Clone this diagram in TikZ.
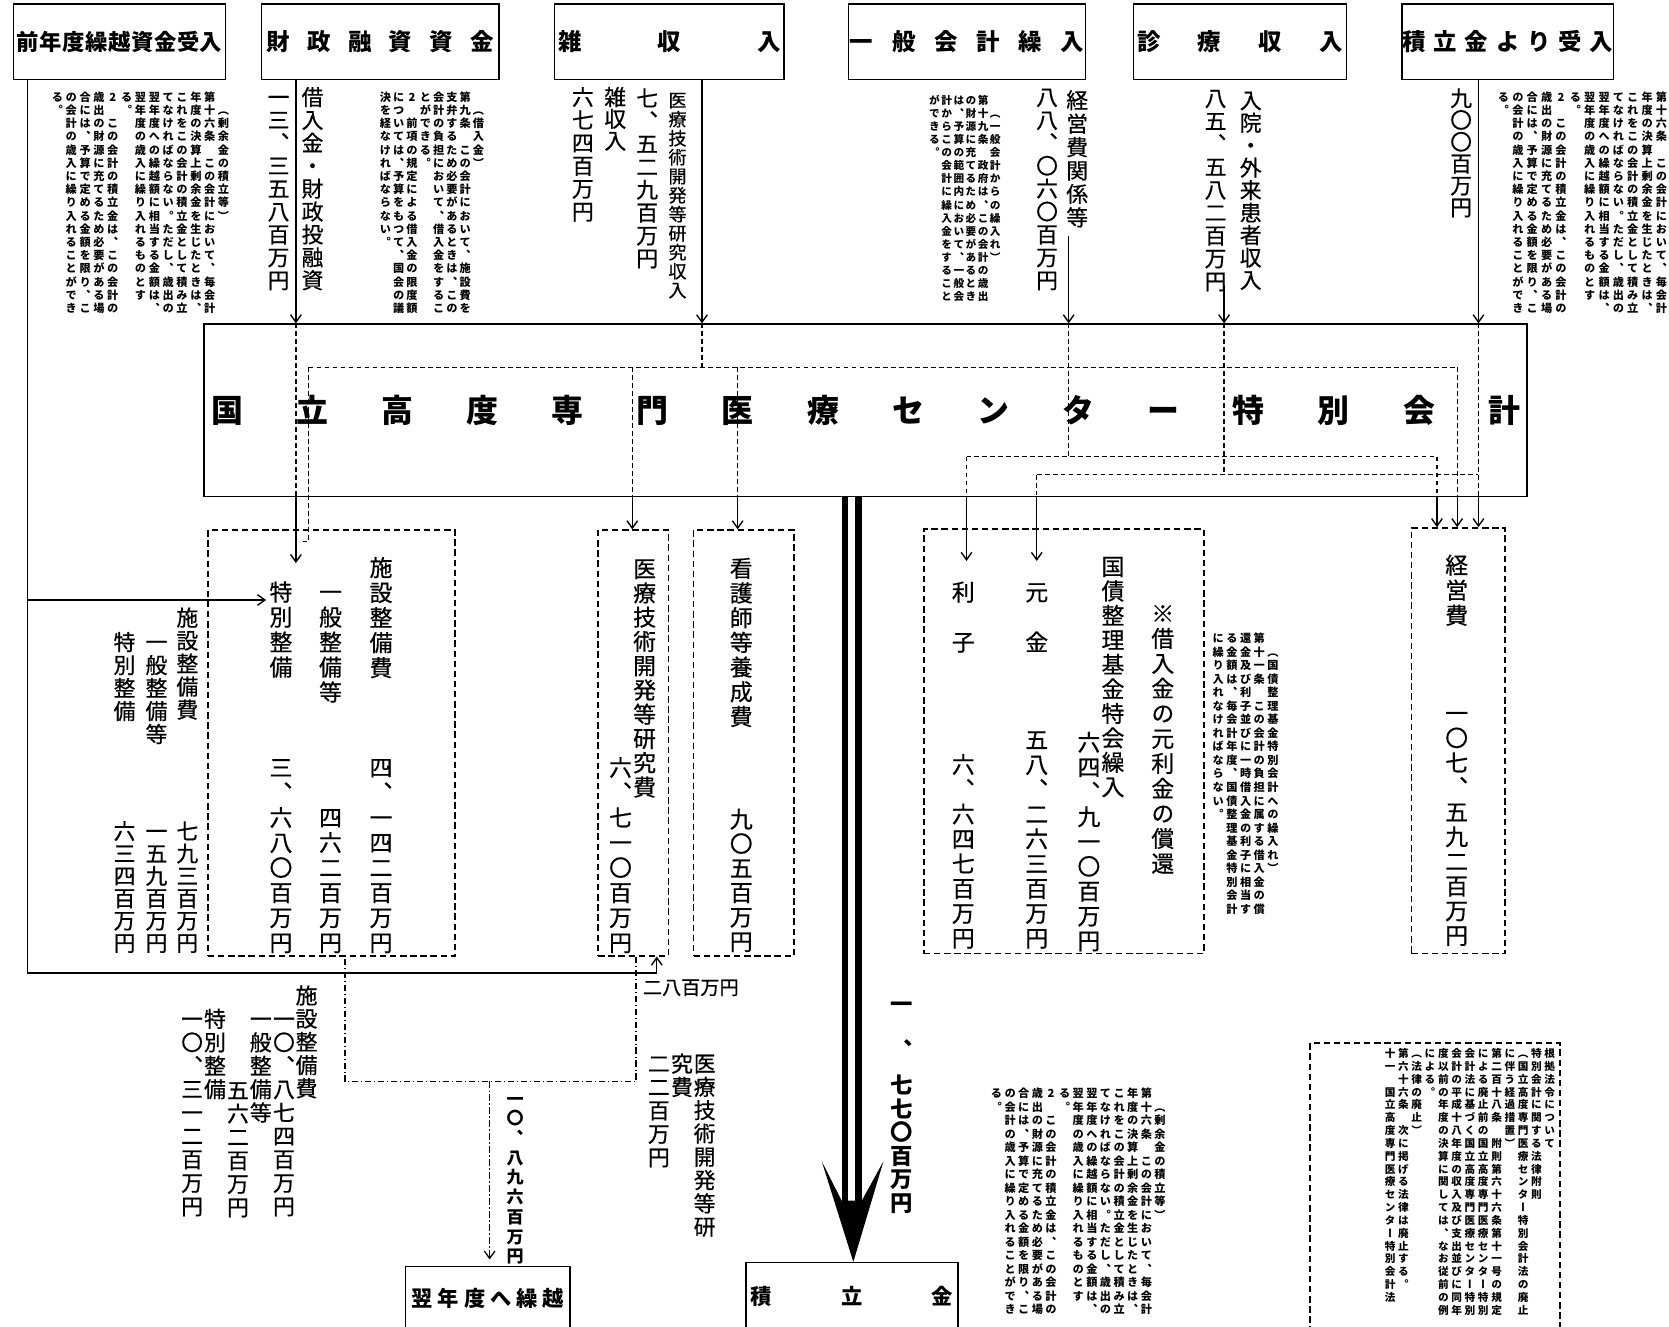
\documentclass[tikz,border=0pt]{standalone}
\usepackage{fontspec}
\usetikzlibrary{arrows.meta}
\newfontfamily\jp{Noto Sans CJK JP}
\newfontfamily\jpm[FakeBold=0.6]{Noto Sans CJK JP}
\newfontfamily\vjp[RawFeature=+vert]{Noto Sans CJK JP}
\newfontfamily\vjpm[RawFeature=+vert,FakeBold=0.6]{Noto Sans CJK JP}
\newlength\vstep
\def\vtloop#1{\ifx#1\relax\else\vtcell{#1}\expandafter\vtloop\fi}
\def\vtcell#1{\ifx#1|\vskip0.5\vstep\else\hbox to\vstep{\hss\vbox to\vstep{\vss\hbox{\smash{#1}}\kern\dimexpr0.5\vstep-0.38em\relax}\hss}\fi}
\newcommand\vt[2]{\setlength\vstep{#1}\vbox{\offinterlineskip\expandafter\vtloop#2\relax}}
\def\sploop#1{\ifx#1\relax\else#1\hfill\expandafter\sploop\fi}
\newcommand\spread[2]{\hbox to #1{\sploop#2\relax\unskip}}
\def\Lsixbody{第十六条　この会計において、毎会計,年度の決算上剰余金を生じたときは、,これをこの会計の積立金として積み立,てなければならない。ただし、歳出の,翌年度への繰越額に相当する金額は、,翌年度の歳入に繰り入れるものとす,る。,2　この会計の積立金は、この会計の,歳出の財源に充てるため必要がある場,合には、予算で定める金額を限り、こ,の会計の歳入に繰り入れることができ,る。}
\edef\Lsixteen{　（剰余金の積立等）,\Lsixbody}
\def\Lnine{　（借入金）,第九条　この会計において、施設費を,支弁するため必要があるときは、この,会計の負担において、借入金をするこ,とができる。,2　前項の規定による借入金の限度額,については、予算をもつて、国会の議,決を経なければならない。}
\def\Lnineteen{　（一般会計からの繰入れ）,第十九条　政府は、この会計の歳出,の財源に充てるため必要があるとき,は、予算の範囲内において、一般会,計からこの会計に繰入金をすること,ができる。}
\def\Leleven{　（国債整理基金特別会計への繰入れ）,第十一条　この会計の負担に属する借入金の償,還金及び利子並びに一時借入金の利子に相当す,る金額は、毎会計年度、国債整理基金特別会計,に繰り入れなければならない。}
\def\Lbasis{根拠法令について,特別会計に関する法律附則,（国立高度専門医療センター特別会計法の廃止,に伴う経過措置）,第二百十八条　附則第六十六条第十一号の規定,による廃止前の国立高度専門医療センター特別,会計法に基づく国立高度専門医療センター特別,会計の平成十八年度の収入及び支出並びに同年,度以前の年度の決算に関しては、なお従前の例,による。,（法律の廃止）,第六十六条　次に掲げる法律は廃止する。,十一　国立高度専門医療センター特別会計法}
\tikzset{
  topbox/.style={draw, line width=1.4pt, inner sep=0pt, minimum height=71pt, font=\jp\bfseries\fontsize{22}{22}\selectfont},
  dbox/.style={draw, line width=1.4pt, dash pattern=on 6pt off 3.5pt, inner sep=0pt},
  sbox/.style={draw, line width=1.4pt, inner sep=0pt, font=\jp\bfseries\fontsize{20}{20}\selectfont},
  vA/.style={inner sep=0pt, font=\vjpm\fontsize{20.5}{20.5}\selectfont},
  vB/.style={inner sep=0pt, font=\vjpm\fontsize{21.5}{21.5}\selectfont},
  vC/.style={inner sep=0pt, font=\vjpm\fontsize{17}{17}\selectfont},
  vlegal/.style={inner sep=0pt, anchor=north, font=\vjp\bfseries\fontsize{10.5}{10.5}\selectfont},
  arr/.style={line width=1.3pt, -{Straight Barb[length=7pt,width=10pt,line width=1.3pt]}},
  dln/.style={line width=1.25pt, dash pattern=on 4.5pt off 3pt},
  ddln/.style={line width=1.2pt, dash pattern=on 6pt off 2.5pt on 1.2pt off 2.5pt},
}
\begin{document}
\begin{tikzpicture}[x=1pt,y=-1pt]
\useasboundingbox (0,0) rectangle (1568,1246);
\fill[white] (0,0) rectangle (1568,1246);

% ---------- top boxes
\node[topbox, minimum width=199pt, font=\jp\bfseries\fontsize{21}{21}\selectfont] (B1) at (112.4,39.4) {\spread{193pt}{前年度繰越資金受入}};
\node[topbox, minimum width=223.4pt] (B2) at (357.3,39.4) {\spread{213pt}{財政融資資金}};
\node[topbox, minimum width=215.6pt] (B3) at (628.8,39.4) {\spread{209pt}{雑収入}};
\node[topbox, minimum width=223pt] (B4) at (908.5,39.4) {\spread{220pt}{一般会計繰入}};
\node[topbox, minimum width=200pt] (B5) at (1165,39.4) {\spread{193pt}{診療収入}};
\node[topbox, minimum width=199pt] (B6) at (1416.5,39.4) {\spread{197pt}{積立金より受入}};

% ---------- main box
\node[draw, line width=1.4pt, inner sep=0pt, minimum width=1243pt, minimum height=162pt, font=\jp\bfseries\fontsize{30}{30}\selectfont] (M) at (813.25,385.5) {\spread{1230pt}{国立高度専門医療センター特別会計}};

% ---------- lower dashed boxes
\node[dbox, minimum width=232.2pt, minimum height=400pt] (LB1) at (311.5,698) {};
\node[dbox, minimum width=66pt, minimum height=400pt] (LB2) at (595,698) {};
\node[dbox, minimum width=94.4pt, minimum height=400pt] (LB3) at (698.8,698) {};
\node[dbox, minimum width=263pt, minimum height=399pt] (LB4) at (999.5,696.5) {};
\node[dbox, minimum width=88pt, minimum height=400pt] (LB5) at (1370,696) {};
\node[dbox, minimum width=234.9pt, minimum height=290pt] (LB7) at (1348.15,1125) {};

% ---------- bottom boxes
\node[sbox, minimum width=154.5pt, minimum height=62pt] (Y) at (458.25,1221) {\raisebox{4pt}{\spread{143pt}{翌年度へ繰越}}};
\node[sbox, minimum width=199pt, minimum height=64pt] (S) at (800.5,1218) {\raisebox{3pt}{\spread{190pt}{積立金}}};

% ---------- legal texts
\foreach \legtext [count=\i] in \Lsixteen
  \node[vlegal] (La-\i) at ({210-(\i-1)*13},84.8) {\vt{12.4pt}{\legtext}};
\foreach \legtext [count=\i] in \Lnine
  \node[vlegal] (Lb-\i) at ({449.6-(\i-1)*12.5},84.8) {\vt{12.4pt}{\legtext}};
\foreach \legtext [count=\i] in \Lnineteen
  \node[vlegal, font=\vjp\bfseries\fontsize{10}{10}\selectfont] (Lc-\i) at ({935-(\i-1)*11.4},87.85) {\vt{12.3pt}{\legtext}};
\foreach \legtext [count=\i] in \Lsixbody
  \node[vlegal] (Ld-\i) at ({1561-(\i-1)*13.5},84.8) {\vt{12.4pt}{\legtext}};
\foreach \legtext [count=\i] in \Leleven
  \node[vlegal] (Le-\i) at ({1196-(\i-1)*12.9},593.35) {\vt{12.7pt}{\legtext}};
\foreach \legtext [count=\i] in \Lsixteen
  \node[vlegal] (Lf-\i) at ({1089.8-(\i-1)*12.8},1020.65) {\vt{12.7pt}{\legtext}};
\foreach \legtext [count=\i] in \Lbasis
  \node[vlegal, font=\vjp\bfseries\fontsize{10}{10}\selectfont] (Lg-\i) at ({1456-(\i-1)*12.5},983.6) {\vt{12.05pt}{\legtext}};

% ---------- vertical texts, upper
\node[vA, anchor=north] (t1) at (261.7,80.25) {\vt{21.5pt}{一三、三五八百万円}};
\node[vA, anchor=north] (t2) at (293.6,80.25) {\vt{21.5pt}{借入金・財政投融資}};
\node[vA, anchor=north] (t3) at (547.6,80.25) {\vt{21.5pt}{六七四百万円}};
\node[vA, anchor=north] (t4) at (578,80.75) {\vt{20.5pt}{雑収入}};
\node[vA, anchor=north] (t5) at (608,81.25) {\vt{21.5pt}{七、五二九百万円}};
\node[vC, anchor=north] (t6) at (636.5,85) {\vt{17.85pt}{医療技術開発等研究収入}};
\node[vA, anchor=north] (t7) at (983.7,80.25) {\vt{21.5pt}{八八、〇六〇百万円}};
\node[vA, anchor=north] (t8) at (1012,83) {\vt{22pt}{経営費関係等}};
\node[vA, anchor=north] (t9) at (1142,81.25) {\vt{21.5pt}{八五、五八二百万円}};
\node[vA, anchor=north] (t10) at (1175,83.5) {\vt{21.1pt}{入院・外来患者収入}};
\node[vA, anchor=north] (t11) at (1372.7,81.75) {\vt{20.5pt}{九〇〇百万円}};

% ---------- inside LB1 and beside it
\node[vB, anchor=north] (t12) at (358,521.25) {\vt{23.5pt}{施設整備費}};
\node[vB, anchor=south] (t13) at (358,897.5) {\vt{23.5pt}{四、一四二百万円}};
\node[vB, anchor=north] (t14) at (310.5,544.25) {\vt{23.5pt}{一般整備等}};
\node[vB, anchor=south] (t15) at (310.5,897.5) {\vt{23.5pt}{四六二百万円}};
\node[vB, anchor=north] (t16) at (264,544.25) {\vt{23.5pt}{特別整備}};
\node[vB, anchor=south] (t17) at (264,897.5) {\vt{23.5pt}{三、六八〇百万円}};
\node[vA, anchor=north] (t18) at (176,569.2) {\vt{21.6pt}{施設整備費}};
\node[vA, anchor=south] (t19) at (176,896.5) {\vt{21pt}{七九三百万円}};
\node[vA, anchor=north] (t20) at (147,592.2) {\vt{21.6pt}{一般整備等}};
\node[vA, anchor=south] (t21) at (147,896.5) {\vt{21pt}{一五九百万円}};
\node[vA, anchor=north] (t22) at (117,592.2) {\vt{21.6pt}{特別整備}};
\node[vA, anchor=south] (t23) at (117,896.5) {\vt{21pt}{六三四百万円}};

% ---------- LB2, LB3
\node[vB, anchor=north] (t24) at (605.6,522.6) {\vt{22.8pt}{医療技術開発等研究費}};
\node[vB, anchor=south] (t25) at (583,897.5) {\vt{23.5pt}{六、七一〇百万円}};
\node[vB, anchor=north] (t26) at (696.4,522.1) {\vt{23.2pt}{看護師等養成費}};
\node[vB, anchor=south] (t27) at (696.4,896.2) {\vt{23pt}{九〇五百万円}};

% ---------- LB4
\node[vB, anchor=north] (t28) at (1092.4,564.25) {\vt{23.5pt}{※借入金の元利金の償還}};
\node[vB, anchor=north] (t29) at (1045.6,520.5) {\vt{23pt}{国債整理基金特会繰入}};
\node[vB, anchor=south] (t30) at (1023,895.65) {\vt{23.3pt}{六四、九一〇百万円}};
\node[vB, anchor=north] (t31) at (974,544.25) {\vt{23.5pt}{元　金}};
\node[vB, anchor=south] (t32) at (974,893.15) {\vt{23.3pt}{五八、二六三百万円}};
\node[vB, anchor=north] (t33) at (905,544.25) {\vt{23.5pt}{利　子}};
\node[vB, anchor=south] (t34) at (905,893.15) {\vt{23.3pt}{六、六四七百万円}};

% ---------- LB5
\node[vB, anchor=north] (t35) at (1368.5,519) {\vt{23.5pt}{経営費}};
\node[vB, anchor=south] (t36) at (1368.5,890.6) {\vt{23.2pt}{一〇七、五九二百万円}};

% ---------- lower area
\node[vA, anchor=north] (t37) at (288,924.1) {\vt{21.8pt}{施設整備費}};
\node[vA, anchor=north] (t38) at (266.8,946) {\vt{22pt}{一〇、八七四百万円}};
\node[vA, anchor=north] (t39) at (245,946) {\vt{22pt}{一般整備等}};
\node[vA, anchor=north] (t40) at (223.6,1013) {\vt{22pt}{五六二百万円}};
\node[vA, anchor=north] (t41) at (202,946) {\vt{22pt}{特別整備}};
\node[vA, anchor=north] (t42) at (180.5,946) {\vt{22pt}{一〇、三一二百万円}};
\node[inner sep=0pt, anchor=north, font=\vjp\bfseries\fontsize{16}{16}\selectfont] (t43) at (484,1022.75) {\vt{18.5pt}{一〇、八九六百万円}};
\node[vA, anchor=north] (t44) at (662,988) {\vt{21.9pt}{医療技術開発等研}};
\node[vA, anchor=north] (t45) at (640.7,988) {\vt{22pt}{究費}};
\node[vA, anchor=north] (t46) at (619,988) {\vt{22pt}{二二百万円}};
\node[inner sep=0pt, anchor=north, font=\vjp\bfseries\fontsize{21}{21}\selectfont] (t47) at (847,931.6) {\vt{22pt}{一||、|七七〇百万円}};
\node[inner sep=0pt, font=\jpm\fontsize{18}{18}\selectfont] (t48) at (649,928) {二八百万円};

% ---------- connectors
\coordinate (pTurn) at (26,563.7);
\coordinate (pTok) at (250,563.7);
\coordinate (pBot) at (617,914);
\draw[arr] (B1.south -| pTurn) |- (pBot) -- (LB2.south -| pBot);
\draw[arr] (pTurn) -- (pTok);

\coordinate (xA) at (278,0);
\coordinate (tA) at (278,529);
\draw[arr] (B2.south -| xA) -- (M.north -| xA);
\draw[dln] (M.north -| xA) -- (M.south -| xA);
\draw[arr] (M.south -| xA) -- (tA);

\coordinate (h1L) at (290,345);
\coordinate (h1R) at (1369,345);
\coordinate (hook) at (290,508.5);
\coordinate (hookE) at (285,508.5);
\draw[dln] (h1L) -- (h1R);
\draw[dln] (h1L) -- (hook) -- (hookE);
\coordinate (x3) at (659.5,345);
\draw[arr] (B3.south -| x3) -- (M.north -| x3);
\draw[dln] (M.north -| x3) -- (x3);
\coordinate (d2) at (594,345);
\coordinate (d3) at (693,345);
\draw[dln] (d2) -- (M.south -| d2);
\draw[arr] (M.south -| d2) -- (LB2.north -| d2);
\draw[dln] (d3) -- (M.south -| d3);
\draw[arr] (M.south -| d3) -- (LB3.north -| d3);
\draw[dln] (h1R) -- (M.south -| h1R);
\draw[arr] (M.south -| h1R) -- (LB5.north -| h1R);

\coordinate (s4) at (1004,222);
\coordinate (j4) at (1004,429);
\draw[arr] (s4) -- (M.north -| s4);
\draw[dln] (M.north -| s4) -- (j4);
\coordinate (h2L) at (908,429);
\coordinate (h2R) at (1350,429);
\coordinate (tR) at (908,527);
\draw[dln] (h2L) -- (h2R);
\draw[dln] (h2L) -- (M.south -| h2L);
\draw[arr] (M.south -| h2L) -- (tR);
\draw[dln] (h2R) -- (M.south -| h2R);
\draw[arr] (M.south -| h2R) -- (LB5.north -| h2R);

\coordinate (s5) at (1150,268);
\coordinate (j5) at (1150,446);
\draw[arr] (s5) -- (M.north -| s5);
\draw[dln] (M.north -| s5) -- (j5);
\coordinate (h3L) at (974,446);
\coordinate (h3R) at (1389,446);
\coordinate (tG) at (974,527);
\draw[dln] (h3L) -- (h3R);
\draw[dln] (h3L) -- (M.south -| h3L);
\draw[arr] (M.south -| h3L) -- (tG);
\draw[arr] (B6.south -| h3R) -- (M.north -| h3R);
\draw[dln] (M.north -| h3R) -- (M.south -| h3R);
\draw[arr] (M.south -| h3R) -- (LB5.north -| h3R);

% dash-dot carry-over
\coordinate (dd1) at (597.5,1016);
\coordinate (dd2) at (324,1016);
\coordinate (dd3) at (460,1016);
\draw[ddln] (LB2.south -| dd1) -- (dd1) -- (dd2) -- (LB1.south -| dd2);
\draw[ddln, -{Straight Barb[length=7pt,width=10pt,line width=1.2pt]}, shorten >=6pt] (dd3) -- (Y.north -| dd3);

% big double arrow to reserve
\coordinate (bA) at (793.9,1128);
\coordinate (bB) at (806.4,1128);
\draw[line width=6.3pt] (M.south -| bA) -- (bA);
\draw[line width=6.3pt] (M.south -| bB) -- (bB);
\fill (772,1091) -- (801.7,1185.5) -- (830,1091) -- (809.6,1128) -- (790.7,1128) -- cycle;
\end{tikzpicture}
\end{document}
